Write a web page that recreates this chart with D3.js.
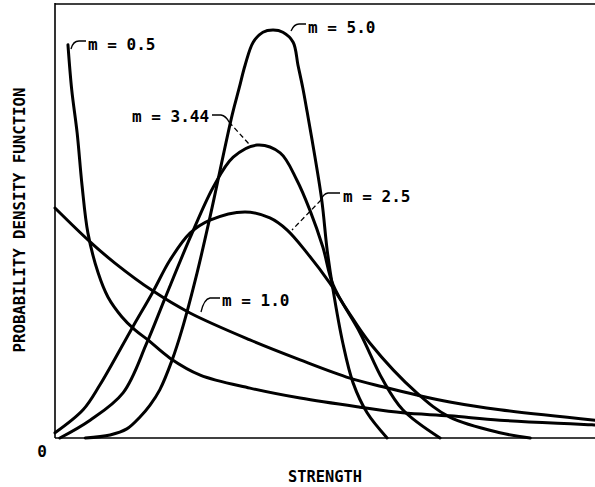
<!DOCTYPE html>
<html>
<head>
<meta charset="utf-8">
<script src="https://cdn.jsdelivr.net/npm/d3@7"></script>
<style>
  html, body { margin: 0; padding: 0; background: #fff; }
  svg text { font-family: "DejaVu Sans Mono", monospace; font-size: 16px; fill: #000; }
</style>
</head>
<body>
<svg id="chart" width="595" height="487"></svg>
<script>
// weibull density curves (strength, density)
const shapes = ["0.5", "1.0", "2.5", "3.44", "5.0"];

const m05 = [[0.24, 0.906], [0.31, 0.802], [0.41, 0.703], [0.5, 0.583], [0.61, 0.472],
  [0.8, 0.38], [0.98, 0.325], [1.24, 0.279], [1.48, 0.249], [1.72, 0.226], [2.13, 0.184],
  [2.69, 0.145], [3.61, 0.115], [4.54, 0.092], [5.65, 0.071], [6.44, 0.058], [7.31, 0.051],
  [8.24, 0.041], [10, 0.03]];
const m10 = [[0, 0.53], [0.65, 0.452], [1.11, 0.403], [1.81, 0.339], [2.5, 0.288],
  [3.61, 0.226], [4.54, 0.18], [5.46, 0.138], [6.07, 0.118], [6.7, 0.099], [7.31, 0.083],
  [8.24, 0.065], [10, 0.041]];
const m25 = [[0, 0.012], [0.52, 0.065], [0.83, 0.122], [1.44, 0.256], [1.81, 0.336],
  [2.13, 0.41], [2.5, 0.472], [2.87, 0.502], [3.52, 0.521], [3.98, 0.507], [4.3, 0.479],
  [4.67, 0.426], [5.09, 0.357], [5.41, 0.295], [5.83, 0.219], [6.7, 0.104], [7.31, 0.048],
  [8.24, 0.012], [8.8, 0]];
const m344 = [[0.09, 0], [0.65, 0.041], [1.26, 0.104], [1.7, 0.219], [2.04, 0.323],
  [2.5, 0.461], [2.93, 0.578], [3.3, 0.647], [3.74, 0.675], [4.17, 0.657], [4.48, 0.594],
  [4.72, 0.525], [4.96, 0.44], [5.15, 0.353], [5.65, 0.242], [6.07, 0.134], [6.44, 0.065],
  [7.13, 0]];
const m50 = [[0.56, 0], [1.02, 0.007], [1.33, 0.021], [1.57, 0.048], [1.76, 0.076],
  [1.94, 0.111], [2.17, 0.18], [2.35, 0.249], [2.63, 0.38], [2.87, 0.509], [3.28, 0.744],
  [3.41, 0.806], [3.52, 0.859], [3.67, 0.912], [3.85, 0.935], [4.04, 0.94], [4.22, 0.935],
  [4.41, 0.912], [4.5, 0.859], [4.59, 0.806], [4.67, 0.751], [4.76, 0.687], [4.94, 0.548],
  [5.04, 0.433], [5.15, 0.341], [5.33, 0.219], [5.52, 0.127], [5.78, 0.058], [6.15, 0]];

const curves = [m05, m10, m25, m344, m50];

const x = d3.scaleLinear().domain([0, 10]).range([55, 595]);
const y = d3.scaleLinear().domain([0, 1]).range([438, 4]);

// label placement: text start + leader (solid part, dashed part)
const labelLayout = [
  { tx: 88, ty: 50, solid: "M71,49 Q73,41 79,41 L86,41" },
  { tx: 222, ty: 306, solid: "M220,298 L210,298 Q204,299 201,312" },
  { tx: 343, ty: 202, solid: "M340,193 L328,193 Q323,194 321,200", dashed: "M321,200 L292,230" },
  { tx: 132, ty: 122, solid: "M212,115 L221,115 Q226,116 229,122", dashed: "M229,122 L249,144" },
  { tx: 308, ty: 33, solid: "M291,31 Q294,24 299,24 L306,24" }
];

const svg = d3.select("#chart");

const frame = svg.append("g")
  .attr("stroke", "#000")
  .attr("stroke-width", 1.6)
  .attr("fill", "none");
frame.append("line")
  .attr("x1", x(0)).attr("x2", x(0))
  .attr("y1", y(1) - 1).attr("y2", y(0));
frame.append("line")
  .attr("x1", x(0)).attr("x2", x(10))
  .attr("y1", y(1)).attr("y2", y(1));
frame.append("line")
  .attr("x1", x(0)).attr("x2", x(10))
  .attr("y1", y(0)).attr("y2", y(0));

const line = d3.line()
  .x(d => x(d[0]))
  .y(d => y(d[1]))
  .curve(d3.curveCatmullRom.alpha(0.5));

svg.append("g")
  .attr("class", "curves")
  .selectAll("path")
  .data(curves)
  .enter()
  .append("path")
  .attr("d", line)
  .attr("fill", "none")
  .attr("stroke", "#000")
  .attr("stroke-width", 3)
  .attr("stroke-linecap", "round")
  .attr("stroke-linejoin", "round");

const labels = svg.append("g").attr("class", "labels");
shapes.forEach((m, i) => {
  const l = labelLayout[i];
  labels.append("path")
    .attr("d", l.solid)
    .attr("fill", "none")
    .attr("stroke", "#000")
    .attr("stroke-width", 1.3);
  if (l.dashed)
    labels.append("path")
      .attr("d", l.dashed)
      .attr("fill", "none")
      .attr("stroke", "#000")
      .attr("stroke-width", 1.3)
      .attr("stroke-dasharray", "5,3");
  labels.append("text")
    .attr("x", l.tx)
    .attr("y", l.ty)
    .attr("font-weight", "bold")
    .text(`m = ${m}`);
});

svg.append("text")
  .attr("x", x(0) - 13)
  .attr("y", y(0) + 19)
  .attr("text-anchor", "middle")
  .attr("font-weight", "bold")
  .text("0");

svg.append("text")
  .attr("x", 325)
  .attr("y", 482)
  .attr("text-anchor", "middle")
  .attr("font-weight", "bold")
  .attr("textLength", 74)
  .attr("lengthAdjust", "spacingAndGlyphs")
  .text("STRENGTH");

svg.append("text")
  .attr("transform", "translate(25,220) rotate(-90)")
  .attr("text-anchor", "middle")
  .attr("font-weight", "bold")
  .attr("textLength", 265)
  .attr("lengthAdjust", "spacingAndGlyphs")
  .text("PROBABILITY DENSITY FUNCTION");
</script>
</body>
</html>
